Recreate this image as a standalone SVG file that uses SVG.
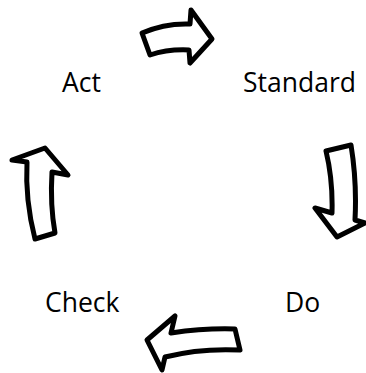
<svg xmlns="http://www.w3.org/2000/svg" width="366" height="373" viewBox="0 0 366 373">
<style>
.lbl{font-family:"Open Sans","Liberation Sans",sans-serif;font-size:26.5px;fill:#000}
.arr{fill:#fff;stroke:#000;stroke-width:5;stroke-linejoin:round}
</style>
<rect width="366" height="373" fill="#fff"/>
<g id="act"><text class="lbl" x="62" y="92">Act</text></g>
<g id="standard"><text class="lbl" x="243" y="92">Standard</text></g>
<g id="do"><text class="lbl" x="285" y="312">Do</text></g>
<g id="check"><text class="lbl" x="45" y="312">Check</text></g>
<g id="connectors">
<path class="arr" d="M142,33 Q165,23 190,24 L191,10 L212,39 L190,63 L189,50 Q168,49 150,55 Z"/>
<path class="arr" d="M326,151 L351,145 Q357,182 355,220 L365,223 L337,237 L315,208 L332,213 Q333,180 326,151 Z"/>
<path class="arr" d="M147,340 L175,316 L171,333 Q205,328 235,329 L240,350 Q200,348 165,357 L162,370 Z"/>
<path class="arr" d="M45,148 L68,175 L52,172 Q50,205 55,233 L35,239 Q25,200 27,162 L12,160 Z"/>
</g>
</svg>
